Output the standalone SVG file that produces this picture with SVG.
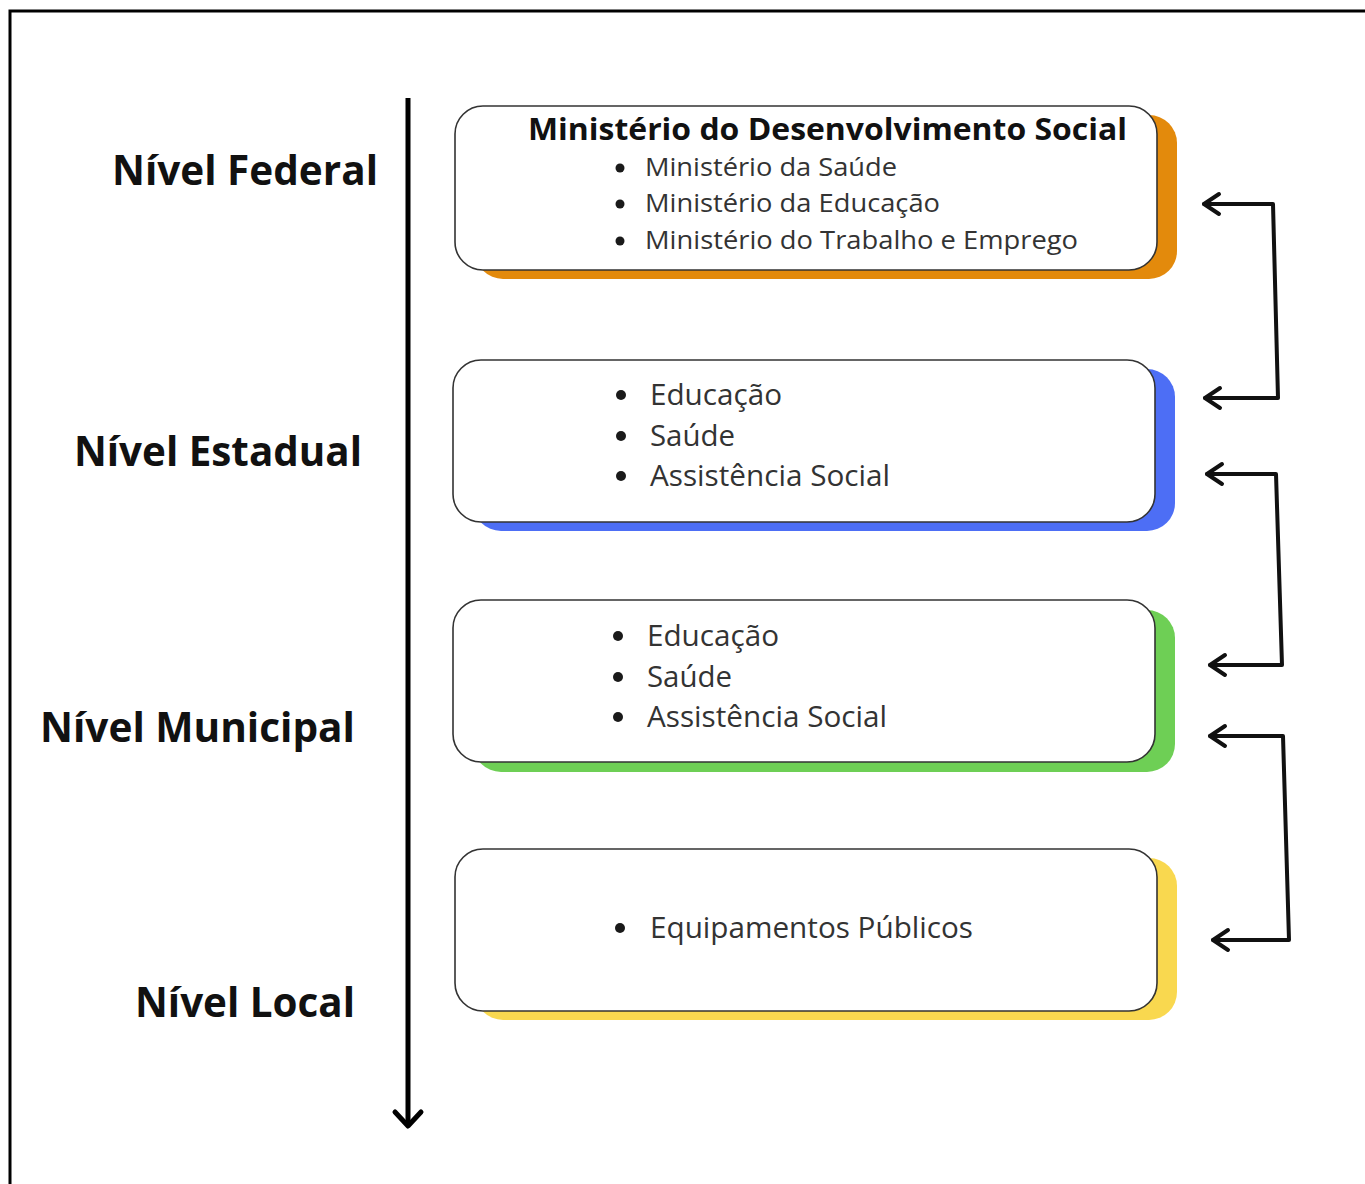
<svg xmlns="http://www.w3.org/2000/svg" width="1365" height="1184" viewBox="0 0 1365 1184">
<style>
.lvl{font-family:"Open Sans","Liberation Sans",sans-serif;font-weight:bold;font-size:42px;fill:#111}
.ttl{font-family:"Open Sans","Liberation Sans",sans-serif;font-weight:bold;font-size:30px;fill:#111}
.it1{font-family:"Open Sans","Liberation Sans",sans-serif;font-size:25px;fill:#333}
.it2{font-family:"Open Sans","Liberation Sans",sans-serif;font-size:30px;fill:#333}
.box{fill:#fff;stroke:#333;stroke-width:1.6}
.dot{fill:#1a1a1a}
.con{fill:none;stroke:#111;stroke-width:4;stroke-linecap:round;stroke-linejoin:round}
</style>
<rect width="1365" height="1184" fill="#fff"/>
<path d="M10,1184 V11 H1365" fill="none" stroke="#000" stroke-width="3"/>

<g id="axis">
<line x1="408" y1="98" x2="408" y2="1126" stroke="#000" stroke-width="5"/>
<path d="M395,1112 L408,1126 L421,1112" fill="none" stroke="#000" stroke-width="5" stroke-linecap="round" stroke-linejoin="round"/>
</g>

<g id="labels">
<text class="lvl" x="112" y="185" textLength="266" lengthAdjust="spacingAndGlyphs">Nível Federal</text>
<text class="lvl" x="74" y="466" textLength="288" lengthAdjust="spacingAndGlyphs">Nível Estadual</text>
<text class="lvl" x="40" y="742" textLength="315" lengthAdjust="spacingAndGlyphs">Nível Municipal</text>
<text class="lvl" x="135" y="1017" textLength="220" lengthAdjust="spacingAndGlyphs">Nível Local</text>
</g>

<g id="federal">
<rect x="475" y="115" width="702" height="164" rx="28" fill="#e38a0c"/>
<rect class="box" x="455" y="106" width="702" height="164" rx="28"/>
<text class="ttl" x="528" y="140" textLength="599" lengthAdjust="spacingAndGlyphs">Ministério do Desenvolvimento Social</text>
<circle class="dot" cx="620" cy="168" r="4.5"/>
<text class="it1" x="645" y="176" textLength="252" lengthAdjust="spacingAndGlyphs">Ministério da Saúde</text>
<circle class="dot" cx="620" cy="204" r="4.5"/>
<text class="it1" x="645" y="212" textLength="295" lengthAdjust="spacingAndGlyphs">Ministério da Educação</text>
<circle class="dot" cx="620" cy="241" r="4.5"/>
<text class="it1" x="645" y="249" textLength="433" lengthAdjust="spacingAndGlyphs">Ministério do Trabalho e Emprego</text>
</g>

<g id="estadual">
<rect x="473" y="369" width="702" height="162" rx="28" fill="#4d6ef5"/>
<rect class="box" x="453" y="360" width="702" height="162" rx="28"/>
<circle class="dot" cx="621" cy="395" r="5"/>
<text class="it2" x="650" y="405" textLength="132" lengthAdjust="spacingAndGlyphs">Educação</text>
<circle class="dot" cx="621" cy="436" r="5"/>
<text class="it2" x="650" y="446" textLength="85" lengthAdjust="spacingAndGlyphs">Saúde</text>
<circle class="dot" cx="621" cy="476" r="5"/>
<text class="it2" x="650" y="486" textLength="240" lengthAdjust="spacingAndGlyphs">Assistência Social</text>
</g>

<g id="municipal">
<rect x="473" y="610" width="702" height="162" rx="28" fill="#6ecf55"/>
<rect class="box" x="453" y="600" width="702" height="162" rx="28"/>
<circle class="dot" cx="618" cy="636" r="5"/>
<text class="it2" x="647" y="646" textLength="132" lengthAdjust="spacingAndGlyphs">Educação</text>
<circle class="dot" cx="618" cy="677" r="5"/>
<text class="it2" x="647" y="687" textLength="85" lengthAdjust="spacingAndGlyphs">Saúde</text>
<circle class="dot" cx="618" cy="717" r="5"/>
<text class="it2" x="647" y="727" textLength="240" lengthAdjust="spacingAndGlyphs">Assistência Social</text>
</g>

<g id="local">
<rect x="475" y="858" width="702" height="162" rx="28" fill="#f9d84f"/>
<rect class="box" x="455" y="849" width="702" height="162" rx="28"/>
<circle class="dot" cx="620" cy="928" r="5"/>
<text class="it2" x="650" y="938" textLength="323" lengthAdjust="spacingAndGlyphs">Equipamentos Públicos</text>
</g>

<g id="connectors">
<path class="con" d="M1205,398 L1278,398 L1273,204 L1204,204"/>
<path class="con" d="M1219,194 L1204,204 L1219,214"/>
<path class="con" d="M1220,388 L1205,398 L1220,408"/>
<path class="con" d="M1210,665 L1282,665 L1276,474 L1207,474"/>
<path class="con" d="M1222,464 L1207,474 L1222,484"/>
<path class="con" d="M1225,655 L1210,665 L1225,675"/>
<path class="con" d="M1213,940 L1289,940 L1283,736 L1210,736"/>
<path class="con" d="M1225,726 L1210,736 L1225,746"/>
<path class="con" d="M1228,930 L1213,940 L1228,950"/>
</g>
</svg>
